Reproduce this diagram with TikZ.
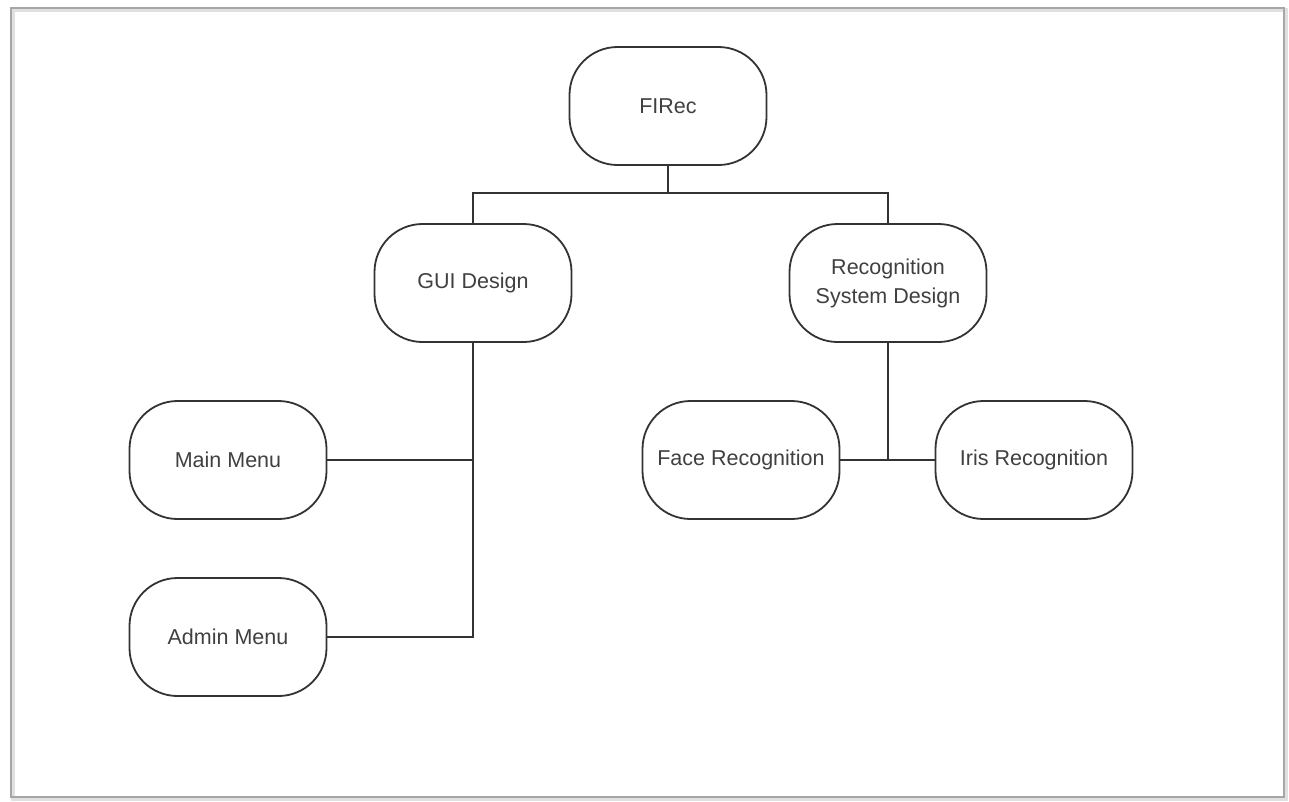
\documentclass[tikz,border=0pt]{standalone}
\usepackage{fontspec}
\setmainfont{Liberation Sans}
\begin{document}
\begin{tikzpicture}[x=1pt,y=-1pt,
  box/.style={draw=black!80, line width=1.8pt, rounded corners=48pt, minimum width=197pt, minimum height=118pt, align=center, text=black!75, font=\fontsize{21.5}{29}\selectfont, inner sep=0pt},
  link/.style={draw=black!80, line width=1.8pt}]
\useasboundingbox (0,0) rectangle (1289,801);
\fill[white] (0,0) rectangle (1289,801);
\draw[black!12, line width=4pt] (13,10) rectangle (1286,799);
\draw[black!35, line width=1.6pt] (11,8) rectangle (1284,797);
\node[box] (firec) at (668,106) {FIRec};
\node[box] (gui) at (473,283) {GUI Design};
\node[box] (rsd) at (888,283) {Recognition\\System Design};
\node[box] (main) at (228,460) {Main Menu};
\node[box] (admin) at (228,637) {Admin Menu};
\node[box] (face) at (741,460) {Face Recognition};
\node[box] (iris) at (1034,460) {Iris Recognition};
\coordinate (top) at (668,193);
\coordinate (guiM) at (473,460);
\coordinate (guiA) at (473,637);
\coordinate (rsdJ) at (888,460);
\draw[link] (firec.south) -- (top);
\draw[link] (gui.north) |- (top) -| (rsd.north);
\draw[link] (gui.south) -- (guiA) -- (admin.east);
\draw[link] (main.east) -- (guiM);
\draw[link] (rsd.south) -- (rsdJ);
\draw[link] (face.east) -- (iris.west);
\end{tikzpicture}
\end{document}
